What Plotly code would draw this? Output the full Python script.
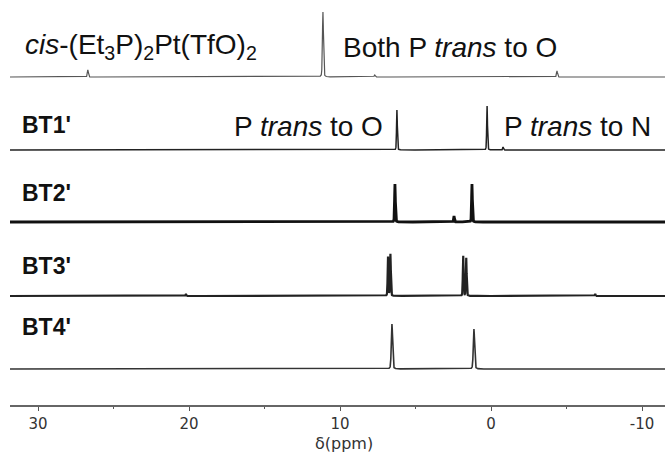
import numpy as np
import plotly.graph_objects as go

# ---------------- data ----------------
spectrum_names = ["cis", "BT1'", "BT2'", "BT3'", "BT4'"]

cis_ppm = [26.7, 11.13, 7.7, -4.37]
cis_height = [7, 65, 2, 6]

bt1_ppm = [6.23, 0.26, -0.8]
bt1_height = [40, 44, 3]

bt2_ppm = [6.36, 2.45, 1.26]
bt2_height = [38, 6, 38]

bt3_ppm = [20.2, 6.82, 6.66, 1.84, 1.64, -6.9]
bt3_height = [2, 39, 42, 40, 38, 2]

bt4_ppm = [6.56, 1.13]
bt4_height = [45, 40]

tick_vals = [30, 20, 10, 0, -10]
tick_text = ["30", "20", "10", "0", "-10"]

# ---------------- layout helpers ----------------
W, H = 665, 452
PLOT_L, PLOT_B = 10, 47
PLOT_H = H - PLOT_B           # 405 px plot height
ZERO_PX, PX_PER_PPM = 491.0, 15.1
X_LEFT = (ZERO_PX - PLOT_L) / PX_PER_PPM
X_RIGHT = (ZERO_PX - W) / PX_PER_PPM


def px_x(px):
    return (ZERO_PX - px) / PX_PER_PPM


def px_y(py):
    return PLOT_H - py


ppm = np.linspace(X_LEFT, X_RIGHT, 12000)


def spectrum(peaks, heights, fwhm, eta=0.25):
    # pseudo-Voigt line shape for each read peak
    y = np.zeros_like(ppm)
    for p, h in zip(peaks, heights):
        d = (ppm - p) / (fwhm / 2.0)
        lor = 1.0 / (1.0 + d ** 2)
        gau = np.exp(-np.log(2) * d ** 2)
        y += h * (eta * lor + (1 - eta) * gau)
    return y


specs = [
    dict(p=cis_ppm, h=cis_height, w=0.08, base=77, lw=1.2, col="#555555"),
    dict(p=bt1_ppm, h=bt1_height, w=0.06, base=150, lw=1.5, col="#222222"),
    dict(p=bt2_ppm, h=bt2_height, w=0.06, base=222, lw=2.8, col="#111111"),
    dict(p=bt3_ppm, h=bt3_height, w=0.06, base=296, lw=2.2, col="#222222"),
    dict(p=bt4_ppm, h=bt4_height, w=0.1, base=369, lw=1.6, col="#333333"),
]

fig = go.Figure()
for name, s in zip(spectrum_names, specs):
    fig.add_trace(go.Scatter(
        x=ppm, y=px_y(s["base"]) + spectrum(s["p"], s["h"], s["w"]),
        mode="lines", line=dict(color=s["col"], width=s["lw"]),
        name=name, showlegend=False, hoverinfo="skip"))

FONT = "Liberation Sans, Arial, sans-serif"
labels = [
    ("<i>cis</i>-(Et<sub>3</sub>P)<sub>2</sub>Pt(TfO)<sub>2</sub>", 23, 46, 28),
    ("Both P <i>trans</i> to O", 341, 47, 28),
    ("<b>BT1'</b>", 20, 125, 23),
    ("P <i>trans</i> to O", 232, 126, 28),
    ("P <i>trans</i> to N", 502, 126, 28),
    ("<b>BT2'</b>", 20, 193, 23),
    ("<b>BT3'</b>", 20, 266, 23),
    ("<b>BT4'</b>", 20, 327, 23),
]
for txt, lx, ly, fs in labels:
    fig.add_annotation(x=px_x(lx), y=px_y(ly), xref="x", yref="y", text=txt,
                       showarrow=False, xanchor="left", yanchor="middle",
                       font=dict(family=FONT, size=fs, color="#111111"))

# x-axis title, centred where the reference puts it (below the plot area)
fig.add_annotation(x=px_x(344), y=-38 / PLOT_H, xref="x", yref="paper",
                   text="δ(ppm)", showarrow=False,
                   xanchor="center", yanchor="middle",
                   font=dict(family="DejaVu Sans", size=16, color="#333333"))

fig.update_layout(
    width=W, height=H,
    margin=dict(l=PLOT_L, r=0, t=0, b=PLOT_B),
    paper_bgcolor="white", plot_bgcolor="white",
    xaxis=dict(range=[X_LEFT, X_RIGHT], showgrid=False, zeroline=False,
               showline=True, linecolor="#666666", linewidth=2,
               ticks="outside", ticklen=4, tickwidth=1, tickcolor="#555555",
               tickvals=tick_vals, ticktext=tick_text,
               minor=dict(tickvals=[25, 15, 5, -5], ticks="outside", ticklen=2,
                          tickcolor="#555555", showgrid=False),
               tickfont=dict(family="DejaVu Sans", size=15, color="#333333")),
    yaxis=dict(range=[0, PLOT_H], visible=False, showgrid=False, zeroline=False),
)

fig.write_html("out.html")
